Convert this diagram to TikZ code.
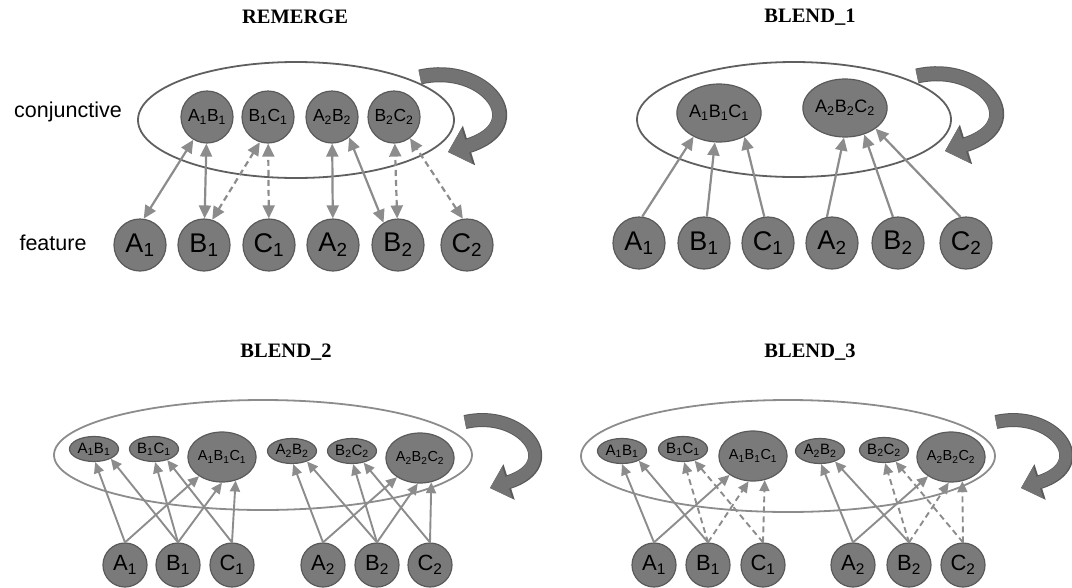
\documentclass[tikz,border=0pt]{standalone}
\usepackage{fontspec}
\setmainfont{Liberation Sans}
\newfontfamily\serifa{Liberation Serif}
\usepackage{tikz}
\usetikzlibrary{arrows.meta,shapes.geometric}
\definecolor{grisnodo}{RGB}{122,122,122}
\definecolor{grisborde}{RGB}{90,90,90}
\definecolor{grislinea}{RGB}{140,140,140}
\definecolor{grisovalo}{RGB}{95,95,95}
\definecolor{grisclaro}{RGB}{140,140,140}
\definecolor{grisgiro}{RGB}{115,115,115}
\newcommand{\idx}[1]{\textsubscript{#1}}

\begin{document}
\begin{tikzpicture}[x=1pt, y=-1pt,
    feat/.style={circle, fill=grisnodo, draw=grisborde, line width=1.2pt, minimum size=52pt, inner sep=0pt, font=\fontsize{27}{27}\selectfont},
    featc/.style={feat, minimum size=44pt, font=\fontsize{22}{22}\selectfont},
    conj/.style={feat, font=\fontsize{17.5}{17.5}\selectfont},
    conjl/.style={ellipse, fill=grisnodo, draw=grisborde, line width=1.2pt, inner sep=0pt, minimum width=78pt, minimum height=58pt, font=\fontsize{18}{18}\selectfont},
    conjs/.style={conjl, minimum width=49pt, minimum height=25pt, font=\fontsize{15}{15}\selectfont},
    conjm/.style={conjl, minimum width=65pt, minimum height=50pt, font=\fontsize{14.5}{14.5}\selectfont},
    lab/.style={font=\fontsize{21.5}{21.5}\selectfont},
    titulo/.style={font=\serifa\bfseries\fontsize{20.5}{20.5}\selectfont},
    flecha/.style={draw=grislinea, line width=2.2pt, -{Triangle[length=13pt,width=12pt]}},
    doble/.style={flecha, {Triangle[length=13pt,width=12pt]}-{Triangle[length=13pt,width=12pt]}},
    flechac/.style={draw=grislinea, line width=1.9pt, -{Triangle[length=11pt,width=10pt]}},
    punteada/.style={dash pattern=on 6pt off 4pt},
    giro/.style={line width=13pt, draw=grisgiro, -{Triangle[length=20pt,width=36pt]}},
    giroborde/.style={line width=15pt, draw=grisborde, -{Triangle[length=22pt,width=40pt]}},
    giroc/.style={line width=12pt, draw=grisgiro, -{Triangle[length=18pt,width=32pt]}},
    girocborde/.style={line width=14pt, draw=grisborde, -{Triangle[length=20pt,width=36pt]}}]
    \useasboundingbox (0,0) rectangle (1072,587);
    % REMERGE
    \node[titulo] (t1) at (295,17) {REMERGE};
    \node[lab] (conjuntiva) at (68,112) {conjunctive};
    \node[lab] (rasgo) at (53,243) {feature};
    \draw[grisovalo, line width=1.8pt] (296,120) ellipse [x radius=158, y radius=58];
    \draw[giroborde] (420,77) .. controls (485,62) and (535,125) .. (448,152);
    \draw[giro] (420,77) .. controls (485,62) and (535,125) .. (448,152);
    \node[conj] (rAB1) at (207,117) {A\idx1B\idx1};
    \node[conj] (rBC1) at (268,117) {B\idx1C\idx1};
    \node[conj] (rAB2) at (332,117) {A\idx2B\idx2};
    \node[conj] (rBC2) at (394,117) {B\idx2C\idx2};
    \node[feat] (rA1) at (140,245) {A\idx1};
    \node[feat] (rB1) at (204,245) {B\idx1};
    \node[feat] (rC1) at (269,245) {C\idx1};
    \node[feat] (rA2) at (333,245) {A\idx2};
    \node[feat] (rB2) at (398,245) {B\idx2};
    \node[feat] (rC2) at (467,245) {C\idx2};
    \draw[doble] (rA1.82) -- (rAB1.-121);
    \draw[doble] (rB1) -- (rAB1);
    \draw[doble, punteada] (rB1.72) -- (rBC1.-108);
    \draw[doble, punteada] (rC1) -- (rBC1);
    \draw[doble] (rA2) -- (rAB2);
    \draw[doble] (rB2.123) -- (rAB2.-50);
    \draw[doble, punteada] (rB2) -- (rBC2);
    \draw[doble, punteada] (rC2.99) -- (rBC2.-53);
    % BLEND_1
    \node[titulo] (t2) at (810,17) {BLEND\_1};
    \draw[grisovalo, line width=1.8pt] (794,119.5) ellipse [x radius=157, y radius=57.5];
    \draw[giroborde] (917,76) .. controls (982,61) and (1032,124) .. (945,151);
    \draw[giro] (917,76) .. controls (982,61) and (1032,124) .. (945,151);
    \node[conjl] (bABC1) at (719,113) {A\idx1B\idx1C\idx1};
    \node[conjl] (bABC2) at (845,108) {A\idx2B\idx2C\idx2};
    \node[feat] (bA1) at (639,243) {A\idx1};
    \node[feat] (bB1) at (704,243) {B\idx1};
    \node[feat] (bC1) at (768,243) {C\idx1};
    \node[feat] (bA2) at (832,243) {A\idx2};
    \node[feat] (bB2) at (898,243) {B\idx2};
    \node[feat] (bC2) at (966,243) {C\idx2};
    \draw[flecha] (bA1.83) -- (bABC1.-137);
    \draw[flecha] (bB1) -- (bABC1.-98);
    \draw[flecha] (bC1.98) -- (bABC1.-43);
    \draw[flecha] (bA2.101) -- (bABC2.-92);
    \draw[flecha] (bB2.101) -- (bABC2.-54);
    \draw[flecha] (bC2.102) -- (bABC2.-34);
    % BLEND_2
    \node[titulo] (t3) at (286,352) {BLEND\_2};
    \draw[grisclaro, line width=1.8pt] (263,455) ellipse [x radius=209, y radius=55];
    \draw[girocborde] (465,422) .. controls (522,409) and (566,464) .. (490,488);
    \draw[giroc] (465,422) .. controls (522,409) and (566,464) .. (490,488);
    \node[conjs] (cAB1) at (94,449) {A\idx1B\idx1};
    \node[conjs] (cBC1) at (154,449) {B\idx1C\idx1};
    \node[conjm] (cABC1) at (222,457) {A\idx1B\idx1C\idx1};
    \node[conjs] (cAB2) at (292,451) {A\idx2B\idx2};
    \node[conjs] (cBC2) at (352,451) {B\idx2C\idx2};
    \node[conjm] (cABC2) at (420,458) {A\idx2B\idx2C\idx2};
    \node[featc] (cA1) at (125,565) {A\idx1};
    \node[featc] (cB1) at (178,565) {B\idx1};
    \node[featc] (cC1) at (232,565) {C\idx1};
    \node[featc] (cA2) at (323,565) {A\idx2};
    \node[featc] (cB2) at (377,565) {B\idx2};
    \node[featc] (cC2) at (430,565) {C\idx2};
    \draw[flechac] (cA1.north) -- (cAB1.-85);
    \draw[flechac] (cA1.north) -- (cABC1.-140);
    \draw[flechac] (cB1.north) -- (cAB1.-30);
    \draw[flechac] (cB1.north) -- (cBC1.-85);
    \draw[flechac] (cB1.north) -- (cABC1.-90);
    \draw[flechac] (cC1.north) -- (cBC1.-40);
    \draw[flechac] (cC1.north) -- (cABC1.-60);
    \draw[flechac] (cA2.north) -- (cAB2.-85);
    \draw[flechac] (cA2.north) -- (cABC2.-140);
    \draw[flechac] (cB2.north) -- (cAB2.-35);
    \draw[flechac] (cB2.north) -- (cBC2.-85);
    \draw[flechac] (cB2.north) -- (cABC2.-95);
    \draw[flechac] (cC2.north) -- (cBC2.-45);
    \draw[flechac] (cC2.north) -- (cABC2.-65);
    % BLEND_3
    \node[titulo] (t4) at (810,352) {BLEND\_3};
    \draw[grisclaro, line width=1.8pt] (788,456) ellipse [x radius=207, y radius=56];
    \draw[girocborde] (996,422) .. controls (1053,409) and (1097,464) .. (1021,488);
    \draw[giroc] (996,422) .. controls (1053,409) and (1097,464) .. (1021,488);
    \node[conjs] (dAB1) at (622,451) {A\idx1B\idx1};
    \node[conjs] (dBC1) at (683,449) {B\idx1C\idx1};
    \node[conjm] (dABC1) at (753,456) {A\idx1B\idx1C\idx1};
    \node[conjs] (dAB2) at (820,451) {A\idx2B\idx2};
    \node[conjs] (dBC2) at (884,450) {B\idx2C\idx2};
    \node[conjm] (dABC2) at (951,457) {A\idx2B\idx2C\idx2};
    \node[featc] (dA1) at (654,565) {A\idx1};
    \node[featc] (dB1) at (708,565) {B\idx1};
    \node[featc] (dC1) at (763,565) {C\idx1};
    \node[featc] (dA2) at (853,565) {A\idx2};
    \node[featc] (dB2) at (909,565) {B\idx2};
    \node[featc] (dC2) at (963,565) {C\idx2};
    \draw[flechac] (dA1.north) -- (dAB1.-90);
    \draw[flechac] (dA1.north) -- (dABC1.-141);
    \draw[flechac] (dB1.north) -- (dAB1.-30);
    \draw[flechac, punteada] (dB1.north) -- (dBC1.-85);
    \draw[flechac, punteada] (dB1.north) -- (dABC1.-100);
    \draw[flechac, punteada] (dC1.north) -- (dBC1.-45);
    \draw[flechac, punteada] (dC1.north) -- (dABC1.-64);
    \draw[flechac] (dA2.north) -- (dAB2.-85);
    \draw[flechac] (dA2.north) -- (dABC2.-140);
    \draw[flechac] (dB2.north) -- (dAB2.-35);
    \draw[flechac, punteada] (dB2.north) -- (dBC2.-85);
    \draw[flechac, punteada] (dB2.north) -- (dABC2.-95);
    \draw[flechac, punteada] (dC2.north) -- (dBC2.-45);
    \draw[flechac, punteada] (dC2.north) -- (dABC2.-65);
\end{tikzpicture}
\end{document}
